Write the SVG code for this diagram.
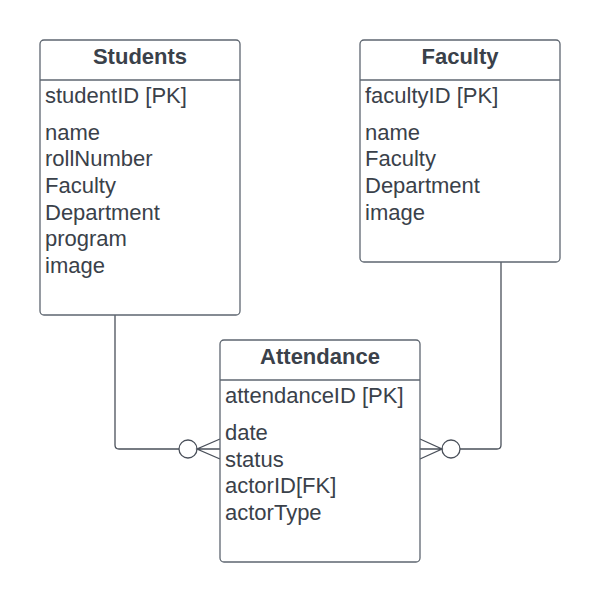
<svg xmlns="http://www.w3.org/2000/svg" width="600" height="602" viewBox="0 0 600 602">
<style>
.box{fill:#fff;stroke:#5e6670;stroke-width:1.3}
.sep{stroke:#5e6670;stroke-width:1.3}
.h{font-family:"Liberation Sans",Arial,sans-serif;font-size:22px;font-weight:bold;fill:#3a414a;text-anchor:middle}
.a{font-family:"Liberation Sans",Arial,sans-serif;font-size:22px;fill:#3a414a}
.c{fill:none;stroke:#4a505a;stroke-width:1.3}
.o{fill:#fff;stroke:#4a505a;stroke-width:1.3}
</style>
<rect width="600" height="602" fill="#fff"/>
<g id="connectors">
<path class="c" d="M115,315 V445 Q115,449 119,449 H179"/>
<circle class="o" cx="188" cy="449" r="9"/>
<path class="c" d="M220,439 L197,449 L220,459 M197,449 H220"/>
<path class="c" d="M501,262 V445 Q501,449 497,449 H460"/>
<circle class="o" cx="451" cy="449" r="9"/>
<path class="c" d="M420,439 L442,449 L420,459 M442,449 H420"/>
</g>
<g id="students">
<rect class="box" x="40" y="40" width="200" height="275" rx="4"/>
<line class="sep" x1="40" y1="80" x2="240" y2="80"/>
<text class="h" x="140" y="64">Students</text>
<text class="a" x="45" y="103">studentID [PK]</text>
<text class="a" x="45" y="139.5">name</text>
<text class="a" x="45" y="166.2">rollNumber</text>
<text class="a" x="45" y="192.9">Faculty</text>
<text class="a" x="45" y="219.6">Department</text>
<text class="a" x="45" y="246.3">program</text>
<text class="a" x="45" y="273">image</text>
</g>
<g id="faculty">
<rect class="box" x="360" y="40" width="200" height="222" rx="4"/>
<line class="sep" x1="360" y1="80" x2="560" y2="80"/>
<text class="h" x="460" y="64">Faculty</text>
<text class="a" x="365" y="103">facultyID [PK]</text>
<text class="a" x="365" y="139.5">name</text>
<text class="a" x="365" y="166.2">Faculty</text>
<text class="a" x="365" y="192.9">Department</text>
<text class="a" x="365" y="219.6">image</text>
</g>
<g id="attendance">
<rect class="box" x="220" y="340" width="200" height="222" rx="4"/>
<line class="sep" x1="220" y1="380" x2="420" y2="380"/>
<text class="h" x="320" y="364">Attendance</text>
<text class="a" x="225" y="403">attendanceID [PK]</text>
<text class="a" x="225" y="440">date</text>
<text class="a" x="225" y="466.7">status</text>
<text class="a" x="225" y="493.3">actorID[FK]</text>
<text class="a" x="225" y="520">actorType</text>
</g>
</svg>
